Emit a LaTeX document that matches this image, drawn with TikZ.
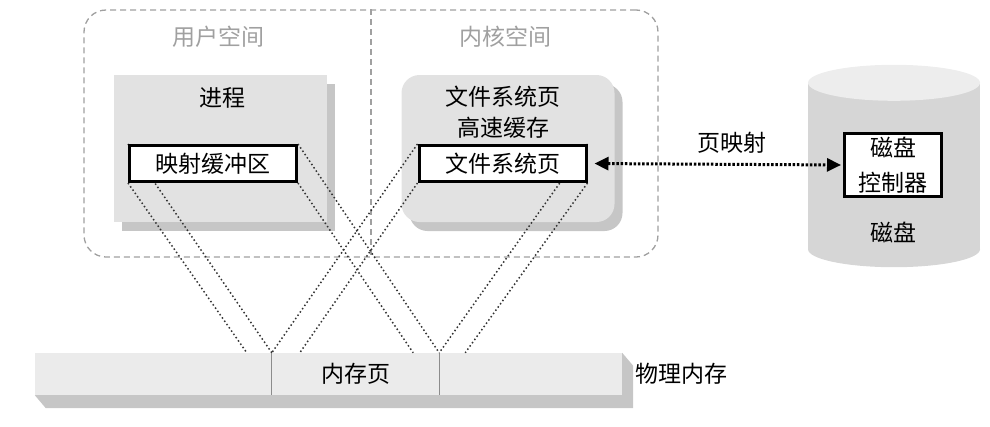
\documentclass[tikz,border=0pt]{standalone}
\usepackage{fontspec}
\setmainfont{Noto Sans CJK SC}
\usepackage{tikz}
\usetikzlibrary{shapes,arrows,arrows.meta,positioning,fit,backgrounds,shapes.geometric,shadows}
\usepackage{xcolor}
\definecolor{boxgray}{HTML}{E2E2E2}
\definecolor{shadegray}{HTML}{C6C6C6}
\definecolor{labelgray}{HTML}{A0A0A0}
\definecolor{diskbody}{HTML}{D6D6D6}
\definecolor{disktop}{HTML}{EDEDED}

\begin{document}
\begin{tikzpicture}[
    x=1pt, y=-1pt,
    font=\fontsize{23}{31}\selectfont,
    spacebox/.style={rectangle, rounded corners=22pt, draw=labelgray, line width=1.3pt, dash pattern=on 6pt off 4pt, minimum width=574pt, minimum height=247pt},
    spaceline/.style={draw=labelgray, line width=1.3pt, dash pattern=on 6pt off 4pt},
    region/.style={text=labelgray},
    container/.style={rectangle, fill=boxgray, minimum width=213pt, minimum height=147pt, drop shadow={shadow xshift=8pt, shadow yshift=-9pt, fill=shadegray, opacity=1}},
    buffer/.style={rectangle, draw=black, fill=white, line width=3pt, minimum width=167pt, minimum height=36pt, inner sep=0pt},
    memory/.style={rectangle, fill=boxgray!70, minimum width=587pt, minimum height=42pt, inner sep=0pt},
    page/.style={rectangle, minimum width=167pt, minimum height=42pt, inner sep=0pt},
    divider/.style={draw=black!45, line width=0.8pt},
    projection/.style={black!80, line width=1.5pt, dash pattern=on 1.5pt off 2.5pt},
    pagemap/.style={<->, >={Triangle[length=14pt,width=13pt]}, line width=3pt, dash pattern=on 2.5pt off 1.8pt},
    diskend/.style={x radius=86pt, y radius=18pt}
]
\useasboundingbox (0,0) rectangle (990,426);

% 用户空间 / 内核空间
\node (space) [spacebox] at (371,133.5) {};
\draw [spaceline] (space.north) -- (space.south);
\node (user) [region] at (218,37) {用户空间};
\node (kernel) [region] at (505,37) {内核空间};

% 进程 与 高速缓存
\node (proc) [container] at (220,148.5) {};
\node (cache) [container, rounded corners=18pt] at (508,148.5) {};
\node (proctitle) at (222,98) {进程};
\node (cachetitle) [align=center] at (503,112) {文件系统页\\高速缓存};

% 物理内存
\node (membar) [memory] at (328.5,374) {};
\fill [shadegray] (membar.south west) -- ([shift={(11pt,-13pt)}]membar.south west)
    -- ([shift={(11pt,-13pt)}]membar.south east) -- ([shift={(11pt,-13pt)}]membar.north east)
    -- (membar.north east) -- (membar.south east) -- cycle;
\node (mempage) [page] at (355.5,374) {内存页};
\draw [divider] (mempage.north west) -- (mempage.south west);
\draw [divider] (mempage.north east) -- (mempage.south east);
\node (phys) [right=10pt of membar] {物理内存};

\coordinate (ubl) at ([xshift=-25pt]mempage.north west);
\coordinate (kbl) at ([xshift=28pt]mempage.north west);
\coordinate (ubr) at ([xshift=-26pt]mempage.north east);
\coordinate (kbr) at ([xshift=26pt]mempage.north east);

% 映射虚线
\node (mapbuf) [buffer, fill=none, draw=none] at (213,163.5) {};
\node (fspage) [buffer, fill=none, draw=none] at (502.5,163.5) {};
\draw [projection] (mapbuf.north west) -- (mempage.north west);
\draw [projection] (mapbuf.south west) -- (ubl);
\draw [projection] (mapbuf.north east) -- (mempage.north east);
\draw [projection] (mapbuf.south east) -- (ubr);
\draw [projection] (fspage.north west) -- (mempage.north west);
\draw [projection] (fspage.south west) -- (kbl);
\draw [projection] (fspage.north east) -- (mempage.north east);
\draw [projection] (fspage.south east) -- (kbr);

% 缓冲区
\node (mapbuftext) [buffer] at (mapbuf) {映射缓冲区};
\node (fspagetext) [buffer] at (fspage) {文件系统页};

% 磁盘
\node (disk) [rectangle, minimum width=172pt, minimum height=166pt, inner sep=0pt] at (894,166) {};
\fill [diskbody] (disk.south) ellipse [diskend];
\fill [diskbody] (disk.north west) rectangle (disk.south east);
\fill [disktop] (disk.north) ellipse [diskend];
\node (ctrl) [buffer, minimum width=97pt, minimum height=63pt, align=center, font=\fontsize{23}{35}\selectfont] at (893,165) {磁盘\\控制器};
\node (disklabel) at (893,232) {磁盘};

% 页映射
\draw [pagemap, shorten <=7pt, shorten >=2pt] (fspagetext.east) -- (ctrl.west);
\node (maplabel) at (732,143) {页映射};

\end{tikzpicture}
\end{document}
